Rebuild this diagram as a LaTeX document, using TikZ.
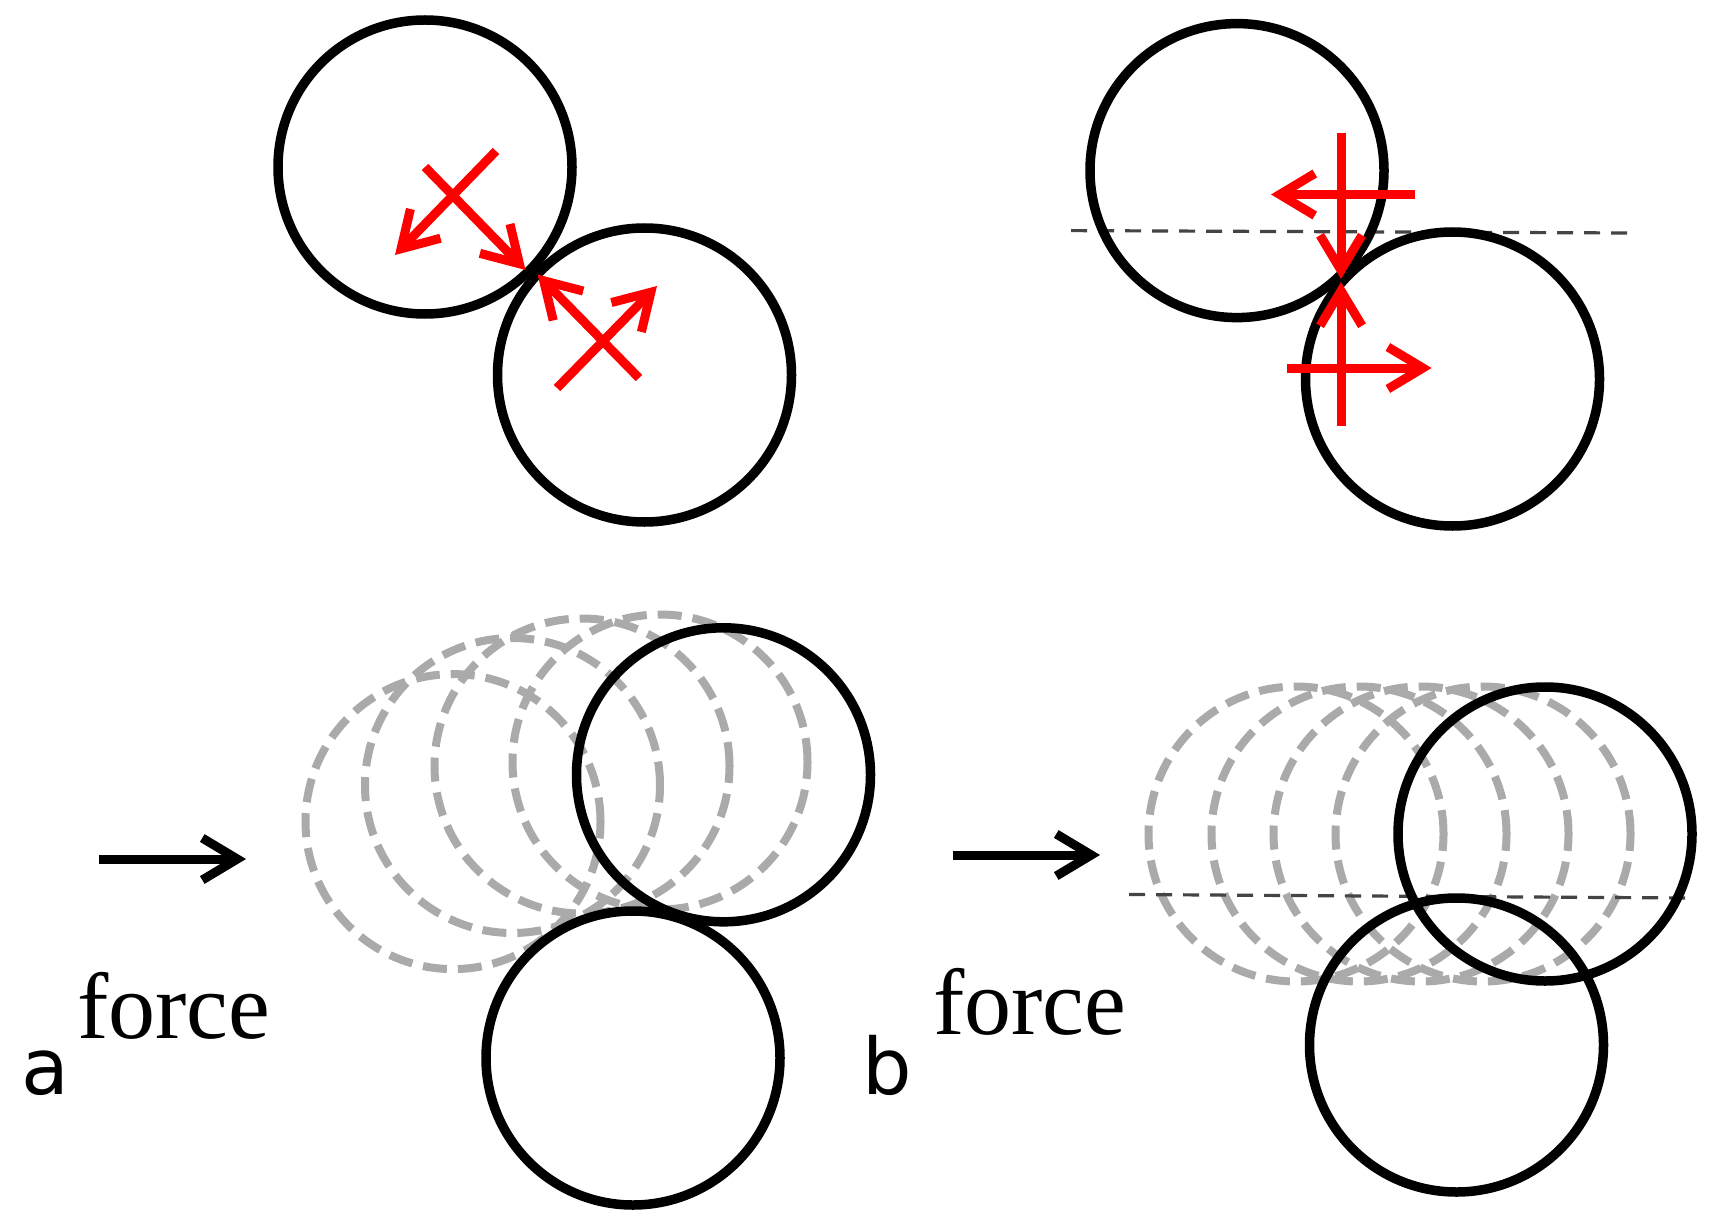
\documentclass[tikz,border=0pt]{standalone}
\usepackage{fontspec}
\usetikzlibrary{arrows.meta}
\newfontfamily\serifF{Liberation Serif}
\newfontfamily\sansF{DejaVu Sans}
\definecolor{ghost}{HTML}{AAAAAA}
\definecolor{guide}{HTML}{444444}
\tikzset{
  x=1pt,y=-1pt,
  ball/.style={circle,draw=black,line width=9.5pt,minimum size=294pt,inner sep=0pt,outer sep=0pt},
  ghostball/.style={circle,draw=ghost,line width=8pt,minimum size=295pt,inner sep=0pt,outer sep=0pt,dash pattern=on 24pt off 11pt},
  force/.style={draw=red,line width=9pt,-{Straight Barb[length=35pt,width=42pt]}},
  push/.style={draw=black,line width=9pt,-{Straight Barb[length=35pt,width=42pt]}},
  guideline/.style={draw=guide,line width=3.2pt,dash pattern=on 16pt off 11pt},
  word/.style={anchor=base west,inner sep=0pt,outer sep=0pt,font=\serifF\fontsize{94}{94}\selectfont},
  letter/.style={anchor=base west,inner sep=0pt,outer sep=0pt,font=\sansF\fontsize{78}{78}\selectfont}
}
\begin{document}
\begin{tikzpicture}
\useasboundingbox (0,0) rectangle (1720,1230);
\fill[white] (0,0) rectangle (1720,1230);
% top left
\node[ball] (c1) at (425,167) {};
\node[ball] (c2) at (644.5,375) {};
\foreach \n/\a/\b/\c/\d in {a1/496/151/395/255,a2/425/167/525.5/270,a3/639/378/537.6/274.5,a4/557/388/657/286}{
  \coordinate (\n s) at (\a,\b); \coordinate (\n e) at (\c,\d);
  \draw[force] (\n s) -- (\n e);
}
% top right
\coordinate (g1s) at (1071,230.6); \coordinate (g1e) at (1631,233);
\draw[guideline] (g1s) -- (g1e);
\node[ball] (c3) at (1237,170.6) {};
\node[ball] (c4) at (1452.5,379) {};
\foreach \n/\a/\b/\c/\d in {b1/1341/133/1341/279,b2/1341/425.5/1341/282,b3/1415/194.5/1271/194.5,b4/1287/368/1431.6/368}{
  \coordinate (\n s) at (\a,\b); \coordinate (\n e) at (\c,\d);
  \draw[force] (\n s) -- (\n e);
}
% bottom left
\foreach \n/\a/\b in {g1/453/821.6,g2/512.5/785.5,g3/582/766,g4/660/762}{
  \node[ghostball] (\n) at (\a,\b) {};
}
\node[ball] (c5) at (723.5,774.8) {};
\node[ball] (c6) at (633,1058) {};
\coordinate (p1s) at (99,859); \coordinate (p1e) at (246,859);
\draw[push] (p1s) -- (p1e);
\node[word] (fa) at (77,1038.7) {force};
\node[letter] (la) at (21,1094) {a};
% bottom right
\foreach \n/\a in {h1/1296,h2/1359,h3/1421,h4/1483}{
  \node[ghostball] (\n) at (\a,834) {};
}
\coordinate (g2s) at (1129,894.5); \coordinate (g2e) at (1688,898);
\draw[guideline] (g2s) -- (g2e);
\node[ball] (c7) at (1545,834) {};
\node[ball] (c8) at (1456.5,1045) {};
\coordinate (p2s) at (953,855); \coordinate (p2e) at (1100,855);
\draw[push] (p2s) -- (p2e);
\node[word] (fb) at (933,1034.7) {force};
\node[letter] (lb) at (862,1094) {b};
\end{tikzpicture}
\end{document}
